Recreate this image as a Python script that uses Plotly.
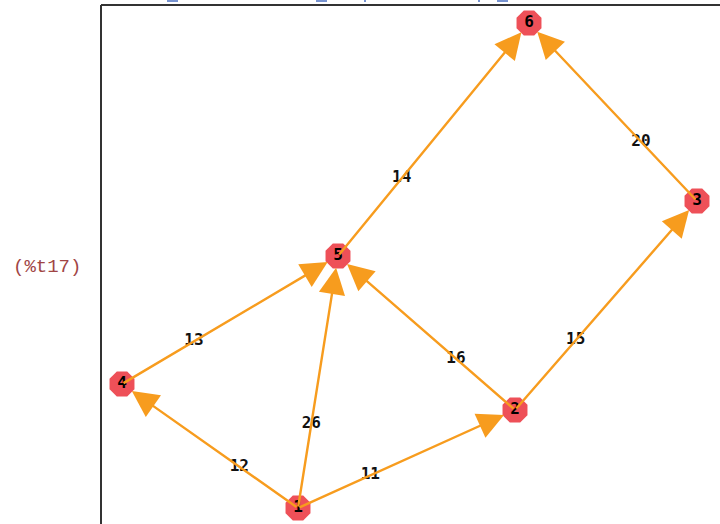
import plotly.graph_objects as go

# Graph data
node_ids = ["1", "2", "3", "4", "5", "6"]
node_x = [298, 515, 697, 122, 338, 529]
node_y = [508, 410, 201, 384, 256, 23]

edge_src = ["1", "1", "1", "2", "2", "4", "5", "3"]
edge_dst = ["2", "4", "5", "5", "3", "5", "6", "6"]
edge_wt = [11, 12, 26, 16, 15, 13, 14, 20]

prompt_label = "(%t17)"

W, H = 720, 524
EDGE_COLOR = "#F79C1E"
NODE_COLOR = "#EE5058"

pos = {n: (x, y) for n, x, y in zip(node_ids, node_x, node_y)}

fig = go.Figure()

annotations = []
lx, ly, lt = [], [], []
for s, d, w in zip(edge_src, edge_dst, edge_wt):
    x0, y0 = pos[s]
    x1, y1 = pos[d]
    annotations.append(dict(
        x=x1, y=y1, ax=x0, ay=y0, xref="x", yref="y", axref="x", ayref="y",
        showarrow=True, arrowhead=2, arrowsize=2.2, arrowwidth=2.4,
        arrowcolor=EDGE_COLOR, standoff=12, startstandoff=0, text=""))
    lx.append(x0 + (x1 - x0) / 3)
    ly.append(y0 + (y1 - y0) / 3)
    lt.append(f"<b>{w}</b>")

fig.add_trace(go.Scatter(
    x=lx, y=ly, mode="text", text=lt,
    textfont=dict(family="DejaVu Sans Mono", size=16, color="#111111"),
    hoverinfo="skip", showlegend=False))

fig.add_trace(go.Scatter(
    x=node_x, y=node_y, mode="markers+text",
    text=[f"<b>{n}</b>" for n in node_ids],
    textposition="middle center",
    marker=dict(symbol="octagon", size=27, color=NODE_COLOR, line=dict(width=0)),
    textfont=dict(family="DejaVu Sans Mono", size=16, color="#000000"),
    hoverinfo="skip", showlegend=False))

annotations.append(dict(
    x=47, y=267, xref="x", yref="y", text=prompt_label, showarrow=False,
    font=dict(family="Liberation Mono", size=19, color="#A04545")))

shapes = [
    dict(type="line", xref="x", yref="y", x0=101, y0=5, x1=101, y1=H + 20,
         line=dict(color="#333333", width=2)),
    dict(type="line", xref="x", yref="y", x0=101, y0=5, x1=W + 20, y1=5,
         line=dict(color="#333333", width=2)),
]
for a, b in [(167, 178), (316, 327), (364, 366), (478, 480), (497, 508)]:
    shapes.append(dict(type="line", xref="x", yref="y", x0=a, y0=1, x1=b, y1=1,
                       line=dict(color="#4A6FC0", width=1.5)))

fig.update_layout(
    width=W, height=H, margin=dict(l=0, r=0, t=0, b=0),
    paper_bgcolor="white", plot_bgcolor="white",
    xaxis=dict(range=[0, W], visible=False, fixedrange=True),
    yaxis=dict(range=[H, 0], visible=False, fixedrange=True),
    annotations=annotations, shapes=shapes, showlegend=False)

fig.write_html(
    "out.html",
    config={"displayModeBar": False, "staticPlot": True},
    post_script="document.body.style.margin='0';document.body.style.overflow='hidden';",
)
